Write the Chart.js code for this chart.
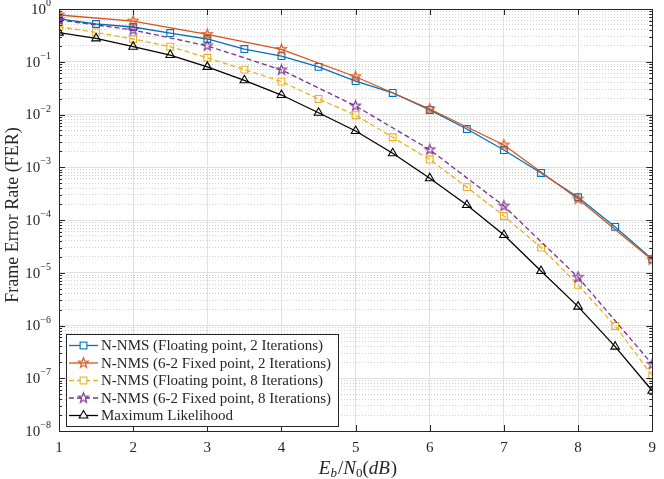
<!DOCTYPE html>
<html>
<head>
<meta charset="utf-8">
<script src="https://cdn.jsdelivr.net/npm/chart.js@4.4.1/dist/chart.umd.min.js"></script>
<style>
  body { margin: 0; background: #fff; }
  #wrap { width: 664px; height: 479px; }
</style>
</head>
<body>
<div id="wrap"><canvas id="ferChart" width="664" height="479"></canvas></div>
<script>
// x positions (Eb/N0 in dB)
const ebn0_half = [1, 1.5, 2, 2.5, 3, 3.5, 4, 4.5, 5, 5.5, 6, 6.5, 7, 7.5, 8, 8.5, 9];
const ebn0_int = [1, 2, 3, 4, 5, 6, 7, 8, 9];

// frame error rates
const nnms_float_2 = [0.65, 0.52, 0.456, 0.35, 0.27, 0.174, 0.128, 0.08, 0.043, 0.0256, 0.0122, 0.0053, 0.00212, 7.8e-4, 2.7e-4, 7.4e-5, 1.8e-5];
const nnms_fixed_2 = [0.77, 0.59, 0.33, 0.172, 0.052, 0.0127, 0.00264, 2.5e-4, 1.75e-5];
const nnms_float_8 = [0.46, 0.36, 0.27, 0.193, 0.119, 0.071, 0.042, 0.0197, 0.0097, 0.0037, 0.0014, 4.2e-4, 1.19e-4, 3.0e-5, 5.9e-6, 9.8e-7, 1.12e-7];
const nnms_fixed_8 = [0.62, 0.40, 0.20, 0.070, 0.0145, 0.00215, 1.84e-4, 8.2e-6, 1.84e-7];
const max_likelihood = [0.356, 0.278, 0.193, 0.134, 0.080, 0.0445, 0.0234, 0.0108, 0.00487, 0.00184, 6.2e-4, 1.92e-4, 5.2e-5, 1.08e-5, 2.28e-6, 3.97e-7, 5.8e-8];

// y tick labels, as powers of ten
const fer_exps = [0, -1, -2, -3, -4, -5, -6, -7, -8];
const x_ticks = [1, 2, 3, 4, 5, 6, 7, 8, 9];

const series_labels = [
  "N-NMS (Floating point, 2 Iterations)",
  "N-NMS (6-2 Fixed point, 2 Iterations)",
  "N-NMS (Floating point, 8 Iterations)",
  "N-NMS (6-2 Fixed point, 8 Iterations)",
  "Maximum Likelihood"
];

const SERIF = '"Liberation Serif", "DejaVu Serif", serif';
const AXIS = "#262626";

function toPoints(xs, ys) {
  return xs.map((x, i) => ({ x: x, y: ys[i] }));
}

// pentagram marker like matlab's 'p'
function makeStar(color, r) {
  const c = document.createElement("canvas");
  const s = Math.ceil(r * 2 + 4);
  c.width = s; c.height = s;
  const g = c.getContext("2d");
  g.strokeStyle = color;
  g.lineWidth = 1.1;
  g.beginPath();
  for (let i = 0; i < 10; i++) {
    const rr = i % 2 === 0 ? r : r * 0.4;
    const a = -Math.PI / 2 + i * Math.PI / 5;
    const px = s / 2 + rr * Math.cos(a), py = s / 2 + rr * Math.sin(a);
    if (i === 0) g.moveTo(px, py); else g.lineTo(px, py);
  }
  g.closePath();
  g.stroke();
  return c;
}

function mkSet(label, xs, ys, color, style, radius, dash) {
  return {
    label: label,
    data: toPoints(xs, ys),
    borderColor: color,
    backgroundColor: color,
    borderWidth: 1.3,
    borderDash: dash,
    pointStyle: style,
    pointRadius: radius,
    pointHoverRadius: radius,
    pointBorderColor: color,
    pointBackgroundColor: "rgba(0,0,0,0)",
    pointBorderWidth: 1.1,
    tension: 0,
    fill: false
  };
}

const datasets = [
  mkSet(series_labels[0], ebn0_half, nnms_float_2, "#0072BD", "rect", 4.8, []),
  mkSet(series_labels[1], ebn0_int, nnms_fixed_2, "#D95319", makeStar("#D95319", 5.3), 5, []),
  mkSet(series_labels[2], ebn0_half, nnms_float_8, "#EDB120", "rect", 4.8, [5, 3]),
  mkSet(series_labels[3], ebn0_int, nnms_fixed_8, "#7E2F8E", makeStar("#7E2F8E", 5.3), 5, [5, 3]),
  mkSet(series_labels[4], ebn0_half, max_likelihood, "#000000", "triangle", 5, [])
];
// later series drawn on top, like matlab
datasets.forEach((d, i) => { d.order = datasets.length - i; });

// draws box, inner ticks, y labels, titles and legend
const decorPlugin = {
  id: "decor",
  afterDatasetsDraw(chart) {
    const ctx = chart.ctx;
    const a = chart.chartArea;
    const xs = chart.scales.x, ys = chart.scales.y;
    ctx.save();

    // inner tick marks
    ctx.strokeStyle = AXIS;
    ctx.lineWidth = 1;
    ctx.beginPath();
    ys.ticks.forEach(t => {
      const y = Math.round(ys.getPixelForValue(t.value)) + 0.5;
      const len = t.major ? 6 : 3;
      ctx.moveTo(a.left, y); ctx.lineTo(a.left + len, y);
      ctx.moveTo(a.right, y); ctx.lineTo(a.right - len, y);
    });
    x_ticks.forEach(v => {
      const x = Math.round(xs.getPixelForValue(v)) + 0.5;
      ctx.moveTo(x, a.bottom); ctx.lineTo(x, a.bottom - 6);
      ctx.moveTo(x, a.top); ctx.lineTo(x, a.top + 6);
    });
    ctx.stroke();

    // axes box
    ctx.strokeRect(Math.round(a.left) + 0.5, Math.round(a.top) + 0.5,
      Math.round(a.right - a.left), Math.round(a.bottom - a.top));

    // y tick labels 10^k
    ctx.fillStyle = AXIS;
    fer_exps.forEach(e => {
      const y = ys.getPixelForValue(Math.pow(10, e));
      const ex = e === 0 ? "0" : "\u2212" + Math.abs(e);
      ctx.font = "10px " + SERIF;
      const ew = ctx.measureText(ex).width;
      ctx.textBaseline = "alphabetic";
      ctx.textAlign = "right";
      ctx.fillText(ex, 51, y - 3);
      ctx.font = "15px " + SERIF;
      ctx.textBaseline = "middle";
      ctx.fillText("10", 51 - ew, y + 1);
    });

    // y axis title
    ctx.save();
    ctx.translate(13, 215);
    ctx.rotate(-Math.PI / 2);
    ctx.textAlign = "center";
    ctx.textBaseline = "middle";
    ctx.font = "18px " + SERIF;
    ctx.fillText("Frame Error Rate (FER)", 0, 0);
    ctx.restore();

    // x axis title: E_b/N_0(dB)
    const parts = [
      { t: "E", f: "italic 19px " + SERIF, dy: 0, sp: 0 },
      { t: "b", f: "italic 13px " + SERIF, dy: 3, sp: 1 },
      { t: "/", f: "19px " + SERIF, dy: 0, sp: 0 },
      { t: "N", f: "italic 19px " + SERIF, dy: 0, sp: 0 },
      { t: "0", f: "13px " + SERIF, dy: 3, sp: 0 },
      { t: "(", f: "19px " + SERIF, dy: 0, sp: 0 },
      { t: "dB", f: "italic 19px " + SERIF, dy: 0, sp: 1 },
      { t: ")", f: "19px " + SERIF, dy: 0, sp: 0 }
    ];
    let total = 0;
    parts.forEach(p => { ctx.font = p.f; p.w = ctx.measureText(p.t).width + p.sp; total += p.w; });
    let px = 358 - total / 2;
    ctx.textAlign = "left";
    ctx.textBaseline = "alphabetic";
    parts.forEach(p => { ctx.font = p.f; ctx.fillText(p.t, px, 474 + p.dy); px += p.w; });

    // legend box
    const lx = 66, ly = 334, lw = 272, lh = 92;
    ctx.fillStyle = "#fff";
    ctx.fillRect(lx, ly, lw, lh);
    ctx.strokeStyle = AXIS;
    ctx.lineWidth = 1;
    ctx.strokeRect(lx + 0.5, ly + 0.5, lw, lh);
    chart.data.datasets.forEach((d, i) => {
      const y = ly + 11.5 + i * 17.5;
      ctx.strokeStyle = d.borderColor;
      ctx.lineWidth = d.borderWidth;
      ctx.setLineDash(d.borderDash);
      ctx.beginPath();
      ctx.moveTo(lx + 3, y); ctx.lineTo(lx + 32, y);
      ctx.stroke();
      ctx.setLineDash([]);
      const mx = lx + 17.5;
      ctx.lineWidth = 1.1;
      if (d.pointStyle === "rect") {
        const s = d.pointRadius * Math.SQRT1_2;
        ctx.fillStyle = "#fff";
        ctx.fillRect(mx - s, y - s, 2 * s, 2 * s);
        ctx.strokeRect(mx - s, y - s, 2 * s, 2 * s);
      } else if (d.pointStyle === "triangle") {
        const r = d.pointRadius;
        ctx.fillStyle = "#fff";
        ctx.beginPath();
        ctx.moveTo(mx, y - r);
        ctx.lineTo(mx + r * Math.sin(2 * Math.PI / 3), y - r * Math.cos(2 * Math.PI / 3));
        ctx.lineTo(mx - r * Math.sin(2 * Math.PI / 3), y - r * Math.cos(2 * Math.PI / 3));
        ctx.closePath();
        ctx.fill();
        ctx.stroke();
      } else {
        const img = d.pointStyle;
        ctx.drawImage(img, mx - img.width / 2, y - img.height / 2);
      }
      ctx.fillStyle = AXIS;
      ctx.font = "15px " + SERIF;
      ctx.textBaseline = "middle";
      ctx.textAlign = "left";
      ctx.fillText(d.label, lx + 35, y + 1);
    });
    ctx.restore();
  }
};

const chart = new Chart(document.getElementById("ferChart"), {
  type: "line",
  data: { datasets: datasets },
  options: {
    responsive: false,
    animation: false,
    layout: { padding: { top: 9, right: 5, left: 0, bottom: 0 } },
    plugins: { legend: { display: false }, tooltip: { enabled: false } },
    scales: {
      x: {
        type: "linear",
        min: 1,
        max: 9,
        afterBuildTicks: (s) => { s.ticks = x_ticks.map(v => ({ value: v })); },
        afterFit: (s) => { s.height = 48; },
        ticks: {
          color: AXIS,
          padding: 8,
          font: { family: SERIF, size: 15 },
          maxRotation: 0
        },
        grid: { color: "#e1e1e1", lineWidth: 1, drawTicks: false },
        border: { display: false }
      },
      y: {
        type: "logarithmic",
        min: 1e-8,
        max: 1,
        afterBuildTicks: (s) => {
          const t = [];
          for (let e = -8; e <= 0; e++) {
            for (let m = 1; m <= 9; m++) {
              if (e === 0 && m > 1) break;
              t.push({ value: m * Math.pow(10, e), major: m === 1 });
            }
          }
          s.ticks = t;
        },
        afterFit: (s) => { s.width = 59; },
        ticks: { display: false, autoSkip: false },
        grid: {
          drawTicks: false,
          color: (c) => (c.tick && c.tick.major ? "#e1e1e1" : "#d0d0d0"),
          lineWidth: 1
        },
        border: {
          display: false,
          dash: (c) => (c.tick && c.tick.major ? [] : [1, 2])
        }
      }
    }
  },
  plugins: [decorPlugin]
});
</script>
</body>
</html>
